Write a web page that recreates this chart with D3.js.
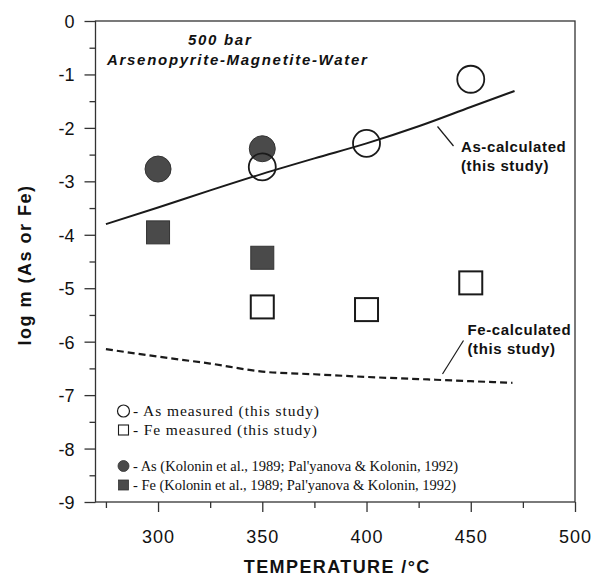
<!DOCTYPE html>
<html>
<head>
<meta charset="utf-8">
<script src="https://cdn.jsdelivr.net/npm/d3@7"></script>
<style>
  html, body { margin: 0; padding: 0; background: #fff; }
  svg { display: block; }
  text { font-family: "Liberation Sans", Arial, sans-serif; fill: #111; }
</style>
</head>
<body>
<svg id="chart" width="592" height="576"></svg>
<script>
// ---- data ----
const asCalcT = [275, 300, 325, 350, 375, 400, 425, 450, 471];
const asCalc  = [-3.80, -3.49, -3.17, -2.86, -2.57, -2.29, -1.97, -1.61, -1.31];
const feCalcT = [275, 300, 325, 350, 375, 400, 425, 450, 470];
const feCalc  = [-6.14, -6.28, -6.41, -6.56, -6.61, -6.66, -6.70, -6.74, -6.77];
const asMeasT = [350, 400, 450];
const asMeas  = [-2.73, -2.29, -1.09];
const feMeasT = [350, 400, 450];
const feMeas  = [-5.35, -5.40, -4.90];
const asLitT  = [300, 350];
const asLit   = [-2.77, -2.39];
const feLitT  = [300, 350];
const feLit   = [-3.955, -4.43];
const xMajor  = [300, 350, 400, 450, 500];
const xMinor  = [275, 325, 375, 425, 475];
const yMajor  = [0, -1, -2, -3, -4, -5, -6, -7, -8, -9];
const yMinor  = [-0.5, -1.5, -2.5, -3.5, -4.5, -5.5, -6.5, -7.5, -8.5];
const legendLabels = [
  "- As measured (this study)",
  "- Fe measured (this study)",
  "- As (Kolonin et al., 1989; Pal'yanova & Kolonin, 1992)",
  "- Fe (Kolonin et al., 1989; Pal'yanova & Kolonin, 1992)"
];

// ---- layout ----
const svg = d3.select("#chart");
const L = 95.5, R = 575, T = 21, B = 502;
const x = d3.scaleLinear().domain([270, 500]).range([L, R]);
const y = d3.scaleLinear().domain([-9, 0]).range([B, T]);
const ink = "#1a1a1a";
const gray = "#4a4a4a";

// frame
svg.append("rect").attr("x", L).attr("y", T).attr("width", R - L).attr("height", B - T)
  .attr("fill", "none").attr("stroke", "#333").attr("stroke-width", 1.3);

// x axis
const gx = svg.append("g").attr("transform", `translate(0,${B})`);
gx.call(d3.axisBottom(x).tickValues(xMajor).tickSize(10).tickSizeOuter(0).tickFormat(d => String(d)));
const gxm = svg.append("g").attr("transform", `translate(0,${B})`);
gxm.call(d3.axisBottom(x).tickValues(xMinor).tickSize(6).tickSizeOuter(0).tickFormat(""));
[gx, gxm].forEach(g => {
  g.select(".domain").remove();
  g.selectAll(".tick line").attr("stroke", "#333").attr("stroke-width", 1.3);
});
gx.selectAll(".tick text").attr("y", 0).attr("dy", null).attr("transform", "translate(0,41)")
  .style("font-size", "18px").style("letter-spacing", "1px").attr("fill", ink)
  .style("font-family", "'Liberation Sans', Arial, sans-serif");

// y axis
const gy = svg.append("g").attr("transform", `translate(${L},0)`);
gy.call(d3.axisLeft(y).tickValues(yMajor).tickSize(11).tickSizeOuter(0).tickFormat(d => String(d)));
const gym = svg.append("g").attr("transform", `translate(${L},0)`);
gym.call(d3.axisLeft(y).tickValues(yMinor).tickSize(6).tickSizeOuter(0).tickFormat(""));
[gy, gym].forEach(g => {
  g.select(".domain").remove();
  g.selectAll(".tick line").attr("stroke", "#333").attr("stroke-width", 1.3);
});
gy.selectAll(".tick text").attr("x", -21).attr("dy", "0.36em")
  .style("font-size", "18px").attr("fill", ink)
  .style("font-family", "'Liberation Sans', Arial, sans-serif");

// axis titles
svg.append("text").attr("x", (L + R) / 2 + 2).attr("y", 573).attr("text-anchor", "middle")
  .style("font-size", "18px").style("font-weight", "bold").style("letter-spacing", "1.4px")
  .text("TEMPERATURE /°C");
svg.append("text").attr("transform", "translate(31,265) rotate(-90)").attr("text-anchor", "middle")
  .style("font-size", "18px").style("font-weight", "bold").style("letter-spacing", "1.5px")
  .text("log m (As or Fe)");

// header
svg.append("text").attr("x", 188).attr("y", 45)
  .style("font-size", "15px").style("font-weight", "bold").style("font-style", "italic")
  .style("letter-spacing", "1.7px").text("500 bar");
svg.append("text").attr("x", 107).attr("y", 65)
  .style("font-size", "15px").style("font-weight", "bold").style("font-style", "italic")
  .style("letter-spacing", "1.7px").text("Arsenopyrite-Magnetite-Water");

// calculated lines
const line = d3.line().x(d => x(d[0])).y(d => y(d[1])).curve(d3.curveMonotoneX);
svg.append("path").datum(d3.zip(asCalcT, asCalc)).attr("d", line)
  .attr("fill", "none").attr("stroke", ink).attr("stroke-width", 2);
svg.append("path").datum(d3.zip(feCalcT, feCalc)).attr("d", line)
  .attr("fill", "none").attr("stroke", ink).attr("stroke-width", 2.2)
  .attr("stroke-dasharray", "7,4");

// literature points (filled)
svg.append("g").selectAll("circle").data(d3.zip(asLitT, asLit)).join("circle")
  .attr("cx", d => x(d[0])).attr("cy", d => y(d[1])).attr("r", 13)
  .attr("fill", gray).attr("stroke", "#333").attr("stroke-width", 1);
svg.append("g").selectAll("rect").data(d3.zip(feLitT, feLit)).join("rect")
  .attr("x", d => x(d[0]) - 11.5).attr("y", d => y(d[1]) - 11.5).attr("width", 23).attr("height", 23)
  .attr("fill", gray).attr("stroke", "#333").attr("stroke-width", 1);

// measured (open)
svg.append("g").selectAll("circle").data(d3.zip(asMeasT, asMeas)).join("circle")
  .attr("cx", d => x(d[0])).attr("cy", d => y(d[1])).attr("r", 13.5)
  .attr("fill", "none").attr("stroke", ink).attr("stroke-width", 1.8);
svg.append("g").selectAll("rect").data(d3.zip(feMeasT, feMeas)).join("rect")
  .attr("x", d => x(d[0]) - 11.5).attr("y", d => y(d[1]) - 11.5).attr("width", 23).attr("height", 23)
  .attr("fill", "#fff").attr("stroke", ink).attr("stroke-width", 2);

// annotations
function annot(tx, ty, lx1, ly1, lx2, ly2, label) {
  svg.append("line").attr("x1", lx1).attr("y1", ly1).attr("x2", lx2).attr("y2", ly2)
    .attr("stroke", ink).attr("stroke-width", 1.2);
  const t = svg.append("text").attr("x", tx).attr("y", ty)
    .style("font-size", "15px").style("font-weight", "bold").style("letter-spacing", "0.6px");
  t.append("tspan").attr("x", tx).text(label);
  t.append("tspan").attr("x", tx).attr("dy", 19).text("(this study)");
}
annot(461, 151.5, 437.5, 126.5, 453.5, 146, "As-calculated");
annot(467.5, 335, 463.5, 340.5, 442.5, 374, "Fe-calculated");

// legend
const legY = [411, 430, 466, 485];
const lx = 123.5;
svg.append("circle").attr("cx", lx).attr("cy", legY[0]).attr("r", 6)
  .attr("fill", "none").attr("stroke", ink).attr("stroke-width", 1.2);
svg.append("rect").attr("x", lx - 5).attr("y", legY[1] - 5).attr("width", 10).attr("height", 10)
  .attr("fill", "none").attr("stroke", ink).attr("stroke-width", 1.1);
svg.append("circle").attr("cx", lx).attr("cy", legY[2]).attr("r", 5.5)
  .attr("fill", gray).attr("stroke", "#333").attr("stroke-width", 0.8);
svg.append("rect").attr("x", lx - 5).attr("y", legY[3] - 5).attr("width", 10).attr("height", 10)
  .attr("fill", gray).attr("stroke", "#333").attr("stroke-width", 0.8);
const legEnd = [319, 317, 458, 456];
const legSize = [15.5, 15.5, 14.5, 14.5];
svg.append("g").selectAll("text").data(legendLabels).join("text")
  .attr("x", 133).attr("y", (d, i) => legY[i] + 5)
  .attr("textLength", (d, i) => legEnd[i] - 133).attr("lengthAdjust", "spacing")
  .style("font-family", "'Liberation Serif', 'Times New Roman', serif")
  .style("font-size", (d, i) => legSize[i] + "px").text(d => d);
</script>
</body>
</html>
